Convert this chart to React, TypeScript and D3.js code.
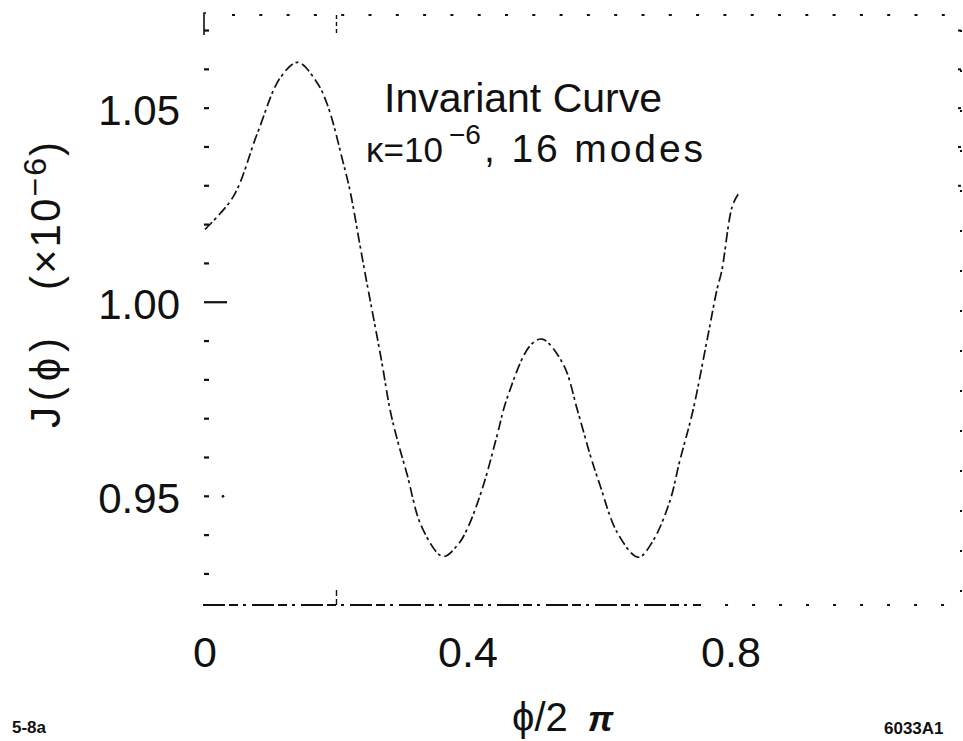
import React, { useEffect, useRef } from 'react';
import * as d3 from 'd3';

// invariant curve
const phi = [0, 0.043, 0.079, 0.114, 0.141, 0.170, 0.187, 0.210, 0.221, 0.236, 0.246, 0.269, 0.281, 0.292, 0.307, 0.330, 0.362, 0.385, 0.400, 0.423, 0.444, 0.459, 0.494, 0.513, 0.545, 0.567, 0.586, 0.601, 0.627, 0.659, 0.681, 0.707, 0.722, 0.742, 0.764, 0.779, 0.786, 0.802, 0.811];
const J = [1.0188, 1.0272, 1.0432, 1.0577, 1.0618, 1.0567, 1.0505, 1.0361, 1.0284, 1.0144, 1.0052, 0.9845, 0.9727, 0.9649, 0.9559, 0.9420, 0.9345, 0.9376, 0.9420, 0.9526, 0.9655, 0.9750, 0.9887, 0.9905, 0.9840, 0.9719, 0.9606, 0.9528, 0.9407, 0.9343, 0.9384, 0.9487, 0.9590, 0.9719, 0.9905, 1.0034, 1.0080, 1.0247, 1.0278];

const xTickLabels = [0, 0.4, 0.8];
const xTickMarks = [0.2];
const yTickLabels = [0.95, 1.0, 1.05];
const yMinorTicks = [0.93, 0.94, 0.95, 0.96, 0.97, 0.98, 0.99, 1.0, 1.01, 1.02, 1.03, 1.04, 1.05, 1.06, 1.07];

const FONT = '"Liberation Sans", Arial, sans-serif';

export default function App() {
  const ref = useRef<SVGSVGElement>(null);

  useEffect(() => {
    const width = 963;
    const height = 741;
    const svg = d3.select(ref.current).attr('width', width).attr('height', height);
    svg.selectAll('*').remove();

    const x = d3.scaleLinear().domain([0, 1.15]).range([205, 961]);
    const y = d3.scaleLinear().domain([0.922, 1.074]).range([605, 15]);
    const [x0, x1] = x.range();
    const [yb, yt] = y.range();

    const frame = svg.append('g').attr('stroke', '#111').attr('fill', 'none');

    // dotted top and right edges, dashed bottom
    frame.append('line').attr('x1', x0 + 27).attr('x2', x1).attr('y1', yt).attr('y2', yt)
      .attr('stroke-width', 2.2).attr('stroke-dasharray', '3,24.3');
    frame.append('line').attr('x1', x1).attr('x2', x1).attr('y1', yt + 15).attr('y2', yb)
      .attr('stroke-width', 2).attr('stroke-dasharray', '2,38');
    frame.append('line').attr('x1', x0 - 2).attr('x2', x(0.75)).attr('y1', yb).attr('y2', yb)
      .attr('stroke-width', 1.8).attr('stroke-dasharray', '22,4,9,5,3,6');
    frame.append('line').attr('x1', x(0.75)).attr('x2', x1).attr('y1', yb).attr('y2', yb)
      .attr('stroke-width', 2.2).attr('stroke-dasharray', '3,24');

    // corner bracket
    frame.append('path')
      .attr('d', `M${x0 + 1},${yt - 2}L${x0 - 1},${yt - 2}L${x0 - 1},${yt + 20}`)
      .attr('stroke-width', 1.6);

    // left minor ticks
    frame.selectAll('.ym').data(yMinorTicks).enter().append('line')
      .attr('x1', x0 - 1).attr('x2', (d) => (Math.abs(d - 1.0) < 1e-9 ? x0 + 22 : x0 + 4))
      .attr('y1', (d) => y(d)).attr('y2', (d) => y(d))
      .attr('stroke-width', 2.2);
    frame.append('circle').attr('cx', x0 + 18).attr('cy', y(0.95)).attr('r', 1).attr('fill', '#111');

    // right edge minor ticks
    frame.selectAll('.yr').data(yMinorTicks.filter((d) => d > 1.02)).enter().append('line')
      .attr('x1', x1 - 3).attr('x2', x1)
      .attr('y1', (d) => y(d)).attr('y2', (d) => y(d))
      .attr('stroke-width', 2);

    // ticks at 0.2
    xTickMarks.forEach((v) => {
      frame.append('line').attr('x1', x(v)).attr('x2', x(v)).attr('y1', yt).attr('y2', yt + 18)
        .attr('stroke-width', 1.4).attr('stroke-dasharray', '4,3');
      frame.append('line').attr('x1', x(v)).attr('x2', x(v)).attr('y1', yb).attr('y2', yb - 18)
        .attr('stroke-width', 1.4).attr('stroke-dasharray', '6,3');
    });

    // curve
    const line = d3.line<number>()
      .x((d, i) => x(phi[i]))
      .y((d) => y(d))
      .curve(d3.curveCatmullRom.alpha(0.5));
    svg.append('path')
      .datum(J)
      .attr('d', line)
      .attr('fill', 'none')
      .attr('stroke', '#111')
      .attr('stroke-width', 1.7)
      .attr('stroke-dasharray', '10,3,3,4');

    // tick labels
    svg.selectAll('.yl').data(yTickLabels).enter().append('text')
      .attr('x', 180).attr('y', (d) => y(d) + 17)
      .attr('text-anchor', 'end')
      .attr('font-family', FONT).attr('font-size', 42).attr('fill', '#111')
      .text((d) => d.toFixed(2));
    svg.selectAll('.xl').data(xTickLabels).enter().append('text')
      .attr('x', (d) => x(d)).attr('y', 667)
      .attr('text-anchor', 'middle')
      .attr('font-family', FONT).attr('font-size', 43).attr('fill', '#111')
      .text((d) => (d === 0 ? '0' : String(d)));

    // annotation
    const note = svg.append('g').attr('font-family', FONT).attr('fill', '#111');
    note.append('text').attr('x', 384).attr('y', 112).attr('font-size', 41)
      .text('Invariant Curve');
    note.append('text').attr('x', 366).attr('y', 162).attr('font-size', 35).text('κ=');
    note.append('text').attr('x', 404).attr('y', 162).attr('font-size', 35).text('10');
    note.append('text').attr('x', 449).attr('y', 144).attr('font-size', 28).text('−6');
    note.append('text').attr('x', 484).attr('y', 162).attr('font-size', 39)
      .attr('textLength', 219)
      .text(', 16 modes');

    // axis titles
    const yTitle = svg.append('g').attr('transform', 'translate(60,0) rotate(-90)')
      .attr('font-family', FONT).attr('fill', '#111');
    yTitle.append('text').attr('x', -428).attr('y', 0).attr('font-size', 42)
      .attr('textLength', 90).text('J(ϕ)');
    const yUnit = yTitle.append('text').attr('x', -290).attr('y', 0).attr('font-size', 42)
      .attr('textLength', 148);
    yUnit.append('tspan').text('(×10');
    yUnit.append('tspan').attr('dy', -14).attr('font-size', 32).text('−6');
    yUnit.append('tspan').attr('dy', 14).text(')');

    const xTitle = svg.append('text').attr('x', 512).attr('y', 731)
      .attr('font-family', FONT).attr('font-size', 40).attr('fill', '#111');
    xTitle.append('tspan').text('ϕ/2');
    xTitle.append('tspan').attr('dx', 20).attr('font-style', 'italic').attr('font-weight', 'bold').attr('font-size', 36).text('π');

    // figure ids
    svg.append('text').attr('x', 12).attr('y', 733)
      .attr('font-family', FONT).attr('font-weight', 'bold').attr('font-size', 17).attr('fill', '#111')
      .text('5-8a');
    svg.append('text').attr('x', 884).attr('y', 734)
      .attr('font-family', FONT).attr('font-weight', 'bold').attr('font-size', 17).attr('fill', '#111')
      .text('6033A1');
  }, []);

  return (
    <svg ref={ref} style={{ position: 'absolute', left: 0, top: 0, background: '#fff' }} />
  );
}
